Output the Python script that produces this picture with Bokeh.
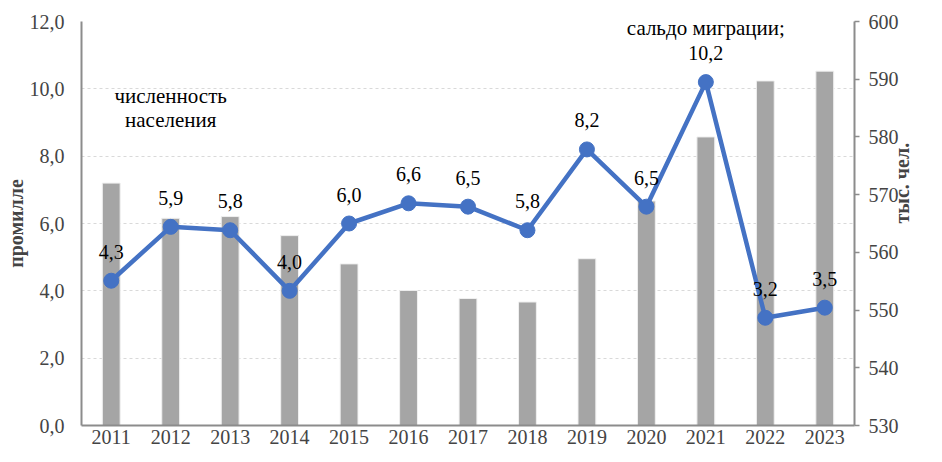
import math
from bokeh.plotting import figure
from bokeh.models import (Range1d, LinearAxis, SingleIntervalTicker, CustomJSTickFormatter,
                          ColumnDataSource, Label, LabelSet)
from bokeh.core.properties import value
from bokeh.embed import file_html
from bokeh.resources import INLINE

# ---- data ----
years = [str(y) for y in range(2011, 2024)]
population = [572.0, 565.9, 566.2, 562.9, 558.0, 553.4, 552.0, 551.4, 558.9, 568.9, 580.0, 589.7, 591.4]
migration = [4.3, 5.9, 5.8, 4.0, 6.0, 6.6, 6.5, 5.8, 8.2, 6.5, 10.2, 3.2, 3.5]
migration_labels = [f"{v:.1f}".replace(".", ",") for v in migration]

FONT = "Liberation Serif"
FS = "20px"
AXIS_COLOR = "#8C8C8C"

W, H = 926, 446

src = ColumnDataSource(dict(year=years, pop=population, mig=migration, lab=migration_labels))

p = figure(width=W, height=H, x_range=years, y_range=Range1d(0, 12),
           output_backend="svg", toolbar_location=None,
           min_border_left=81, min_border_right=68, min_border_top=21, min_border_bottom=0)
p.outline_line_color = None
p.background_fill_color = "white"
p.border_fill_color = "white"

p.extra_y_ranges = {"pop": Range1d(530, 600)}

# bars (population, right axis)
p.vbar(x="year", top="pop", bottom=530, width=0.3, source=src, y_range_name="pop",
       fill_color="#A5A5A5", line_color="#F0F0F0", line_width=1)

# line (migration, left axis)
p.line(x="year", y="mig", source=src, line_color="#4472C4", line_width=4.5)
p.scatter(x="year", y="mig", source=src, size=15, fill_color="#4472C4", line_color="#4472C4")
p.add_layout(LabelSet(x="year", y="mig", text="lab", source=src, y_offset=29,
                      text_font=value(FONT), text_font_size=value(FS), text_align="center",
                      text_baseline="middle", text_color="#000000"))

# annotations
ann = [("численность", "2012", 9.78),
       ("населения", "2012", 9.07),
       ("сальдо миграции;", "2021", 11.8)]
for txt, xf, yv in ann:
    p.add_layout(Label(x=years.index(xf) + 0.5, y=yv, text=txt, text_font=FONT, text_font_size="21px",
                       text_align="center", text_baseline="middle", text_color="#000000"))

# left axis
la = p.yaxis[0]
la.ticker = SingleIntervalTicker(interval=2)
la.formatter = CustomJSTickFormatter(code="return tick.toFixed(1).replace('.', ',');")
la.axis_label = "промилле"
la.axis_label_text_font = FONT
la.axis_label_text_font_style = "bold"
la.axis_label_text_font_size = FS
la.axis_label_standoff = 0
la.major_label_text_font = FONT
la.major_label_text_font_size = FS
la.major_label_standoff = 17
la.major_tick_out = 0
la.major_tick_in = 0
la.minor_tick_out = 0
la.minor_tick_in = 0
la.axis_line_color = AXIS_COLOR
la.axis_line_width = 2

# right axis
ra = LinearAxis(y_range_name="pop", ticker=SingleIntervalTicker(interval=10))
ra.axis_label = "тыс. чел."
ra.axis_label_text_font = FONT
ra.axis_label_text_font_style = "bold"
ra.axis_label_text_font_size = FS
ra.axis_label_standoff = 0
if "axis_label_orientation" in ra.properties():
    ra.axis_label_orientation = math.pi / 2
ra.major_label_text_font = FONT
ra.major_label_text_font_size = FS
ra.major_label_standoff = 9
ra.major_tick_out = 5
ra.major_tick_in = 0
ra.major_tick_line_color = AXIS_COLOR
ra.major_tick_line_width = 1.5
ra.minor_tick_out = 0
ra.minor_tick_in = 0
ra.axis_line_color = AXIS_COLOR
ra.axis_line_width = 2
p.add_layout(ra, "right")

# bottom axis
ba = p.xaxis[0]
ba.major_label_text_font = FONT
ba.major_label_text_font_size = FS
ba.major_label_standoff = 4
ba.major_tick_out = 0
ba.major_tick_in = 0
ba.axis_line_color = AXIS_COLOR
ba.axis_line_width = 2

# grid
p.xgrid.visible = False
p.ygrid.grid_line_color = "#D9D9D9"
p.ygrid.grid_line_dash = "3 3"
p.ygrid.grid_line_width = 1

open("out.html", "w").write(file_html(p, INLINE))
